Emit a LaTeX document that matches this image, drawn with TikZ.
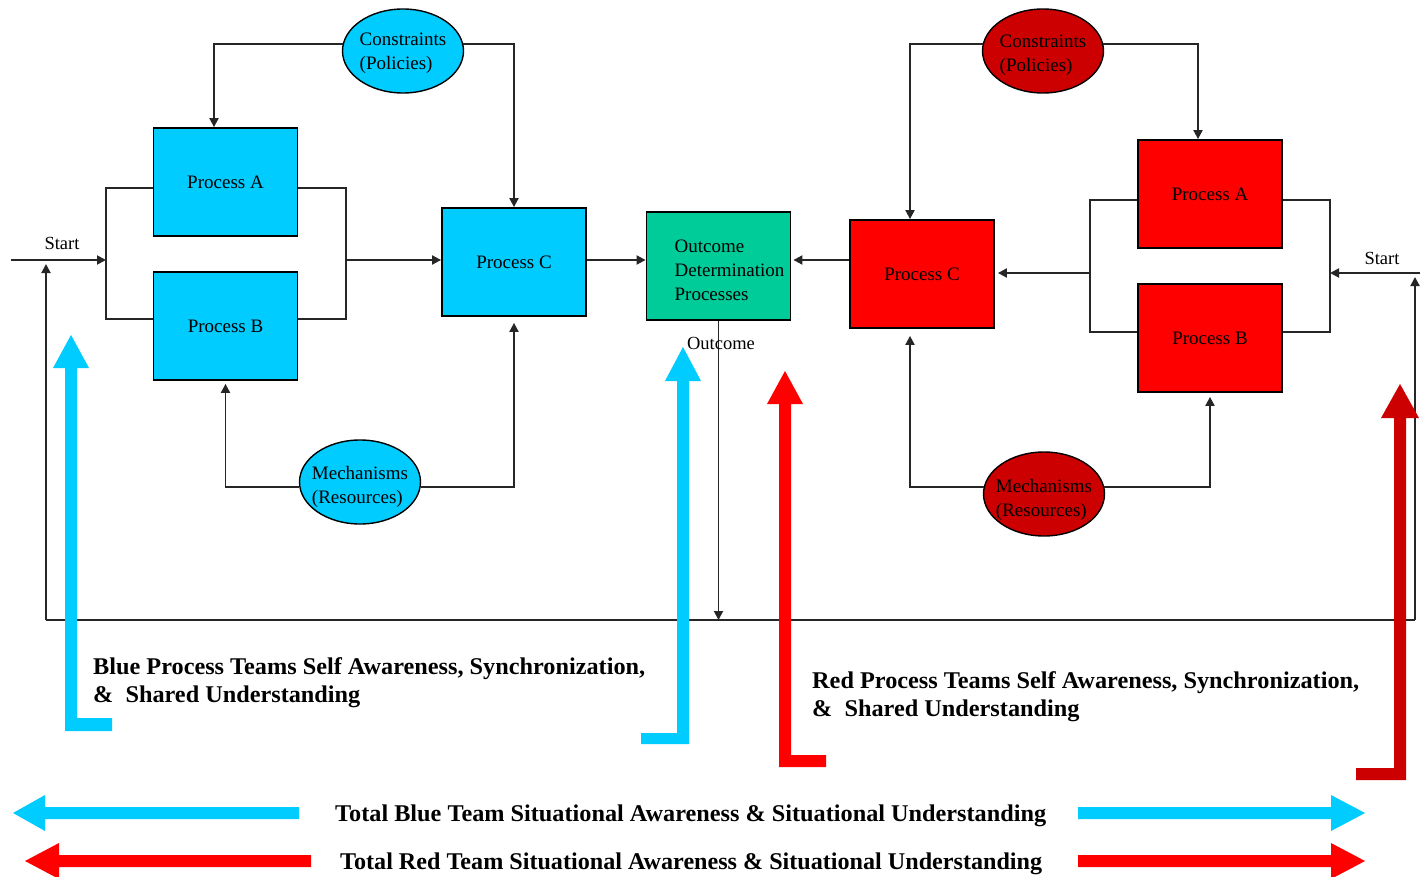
\documentclass[tikz,border=0pt]{standalone}
\usepackage{fontspec}
\setmainfont{Liberation Serif}
\usetikzlibrary{arrows.meta,shapes.geometric}
\definecolor{bblue}{HTML}{00CCFF}
\definecolor{rred}{HTML}{FF0000}
\definecolor{dred}{HTML}{CC0000}
\definecolor{tealbox}{HTML}{00CC99}
\newsavebox\fitbx
\newlength\fitlen
\newcommand\fitw[2]{\sbox\fitbx{#2}\setlength\fitlen{\wd\fitbx}\pgfmathsetmacro\fitf{#1/\fitlen}\xdef\lastfit{\fitf}\scalebox{\fitf}[1]{\usebox\fitbx}}
\newcommand\samefit[1]{\scalebox{\lastfit}[1]{#1}}
\newcommand\lowtab[2]{\raisebox{-#1}[\height][\depth]{\begin{tabular}{@{}l@{}}#2\end{tabular}}}
\tikzset{
  proc/.style={draw=black, line width=1.8pt, minimum width=144pt, minimum height=108pt, inner sep=0pt, font=\fontsize{19}{24}\selectfont},
  oval/.style={ellipse, draw=black, line width=1.4pt, minimum width=121pt, minimum height=84pt, inner sep=0pt, font=\fontsize{19}{24}\selectfont},
  conn/.style={line width=1.9pt, draw=black!85},
  arr/.style={conn, -{Triangle[length=9pt,width=9pt]}},
  lbl/.style={font=\fontsize{18.5}{22}\selectfont, inner sep=0pt},
  big/.style={font=\bfseries\fontsize{24}{29}\selectfont, inner sep=0pt, anchor=base west},
}
\begin{document}
\begin{tikzpicture}[x=1pt,y=-1pt]
\useasboundingbox[fill=white] (0,0) rectangle (1420,877);

% ---------- blue side ----------
\node[proc, fill=bblue] (bA) at (225.5,182) {Process A};
\node[proc, fill=bblue] (bB) at (225.5,326) {Process B};
\node[proc, fill=bblue] (bC) at (514,262) {Process C};
\node[oval, fill=bblue] (bcon) at (403,51) {\makebox[0pt]{\lowtab{2pt}{Constraints\\(Policies)}}};
\node[oval, fill=bblue] (bmech) at (360,482) {\makebox[0pt]{\lowtab{4.5pt}{Mechanisms\\(Resources)}}};

% ---------- outcome ----------
\node[proc, fill=tealbox] (out) at (718.5,266) {\hspace*{22pt}\lowtab{6pt}{Outcome\\Determination\\Processes}};

% ---------- red side ----------
\node[proc, fill=rred] (rC) at (922,274) {Process C};
\node[proc, fill=rred] (rA) at (1210,194) {Process A};
\node[proc, fill=rred] (rB) at (1210,338) {Process B};
\node[oval, fill=dred] (rcon) at (1043,51) {\makebox[0pt]{\lowtab{3.5pt}{Constraints\\(Policies)}}};
\node[oval, fill=dred] (rmech) at (1044,494) {\makebox[0pt]{\lowtab{5.5pt}{Mechanisms\\(Resources)}}};

% ---------- coordinates ----------
\coordinate (bstart) at (11,260);
\coordinate (bjl) at (106,260);
\coordinate (bjr) at (346,260);
\coordinate (rstart) at (1420,273);
\coordinate (rjl) at (1090,273);
\coordinate (rjr) at (1330,273);
\coordinate (fbl) at (46,620);
\coordinate (fbr) at (1415,620);
\coordinate (bstartin) at (46,260);
\coordinate (rstartin) at (1415,273);

% ---------- blue connectors ----------
\draw[arr] (bcon.173) -| ([xshift=-11.5pt]bA.north);
\draw[arr] (bcon.7) -| (bC.north);
\draw[arr, shorten >=3pt] (bmech.185) -| (bB.south);
\draw[arr, shorten >=6pt] (bmech.355) -| (bC.south);
\draw[conn] ([yshift=-6pt]bA.west) -| (bjl) |- ([yshift=7pt]bB.west);
\draw[conn] ([yshift=-6pt]bA.east) -| (bjr) |- ([yshift=7pt]bB.east);
\draw[arr] (bstart) -- (bjl);
\draw[arr] (bjr) -- (bjr -| bC.west);
\draw[arr] (bC.east |- bjr) -- (bjr -| out.west);

% ---------- red connectors ----------
\draw[arr] (rcon.173) -| ([xshift=-12pt]rC.north);
\draw[arr] (rcon.7) -| ([xshift=-12pt]rA.north);
\draw[arr, shorten >=7pt] (rmech.173) -| ([xshift=-12pt]rC.south);
\draw[arr, shorten >=4pt] (rmech.7) -| (rB.south);
\draw[conn] ([yshift=-6pt]rA.west) -| (rjl) |- ([yshift=6pt]rB.west);
\draw[conn] ([yshift=-6pt]rA.east) -| (rjr) |- ([yshift=6pt]rB.east);
\draw[arr] (rstart) -- (rjr);
\draw[arr, shorten >=3pt] (rjl) -- (rjl -| rC.east);
\draw[arr, shorten >=2pt] (rC.west |- bjr) -- (out.east |- bjr);

% ---------- feedback loop ----------
\draw[conn] (fbl) -- (fbr);
\draw[arr, shorten >=4pt] (fbl) -- (bstartin);
\draw[arr, shorten >=4pt] (fbr) -- (rstartin);
\draw[arr] (out.south) -- (out.south |- fbl);

% ---------- small labels ----------
\node[lbl] (bstartlbl) at (62,243) {Start};
\node[lbl] (rstartlbl) at (1382,258) {Start};
\node[lbl] (outlbl) at (721,343) {Outcome};

% ---------- thick L arrows ----------
\fill[bblue] (71,335) -- (89,368) -- (77,368) -- (77,718) -- (112,718) -- (112,731) -- (65,731) -- (65,368) -- (53,368) -- cycle;
\fill[bblue] (683,347) -- (701,381) -- (689,381) -- (689,744) -- (641,744) -- (641,733) -- (677,733) -- (677,381) -- (665,381) -- cycle;
\fill[rred] (785,371) -- (803,404) -- (791,404) -- (791,755) -- (826,755) -- (826,767) -- (779,767) -- (779,404) -- (767,404) -- cycle;
\fill[dred] (1400,384) -- (1419,418) -- (1406,418) -- (1406,780) -- (1356,780) -- (1356,768) -- (1394,768) -- (1394,418) -- (1381,418) -- cycle;

% ---------- bottom double arrows ----------
\fill[bblue] (13,813) -- (45,795) -- (45,807) -- (299,807) -- (299,819) -- (45,819) -- (45,831) -- cycle;
\fill[bblue] (1365,813) -- (1331,795) -- (1331,807) -- (1078,807) -- (1078,819) -- (1331,819) -- (1331,831) -- cycle;
\fill[rred] (25,861) -- (59,843) -- (59,855) -- (311,855) -- (311,867) -- (59,867) -- (59,879) -- cycle;
\fill[rred] (1365,861) -- (1331,843) -- (1331,855) -- (1078,855) -- (1078,867) -- (1331,867) -- (1331,879) -- cycle;

% ---------- texts ----------
\node[big] (bt1) at (93,674) {\fitw{552}{Blue Process Teams Self Awareness, Synchronization,}};
\node[big] (bt2) at (93,702) {\samefit{\&\ \ Shared Understanding}};
\node[big] (rt1) at (812,688) {\fitw{547}{Red Process Teams Self Awareness, Synchronization,}};
\node[big] (rt2) at (812,716) {\samefit{\&\ \ Shared Understanding}};
\node[big] (tb) at (335,821) {\fitw{711}{Total Blue Team Situational Awareness \& Situational Understanding}};
\node[big] (tr) at (340,869) {\fitw{702}{Total Red Team Situational Awareness \& Situational Understanding}};
\end{tikzpicture}
\end{document}
